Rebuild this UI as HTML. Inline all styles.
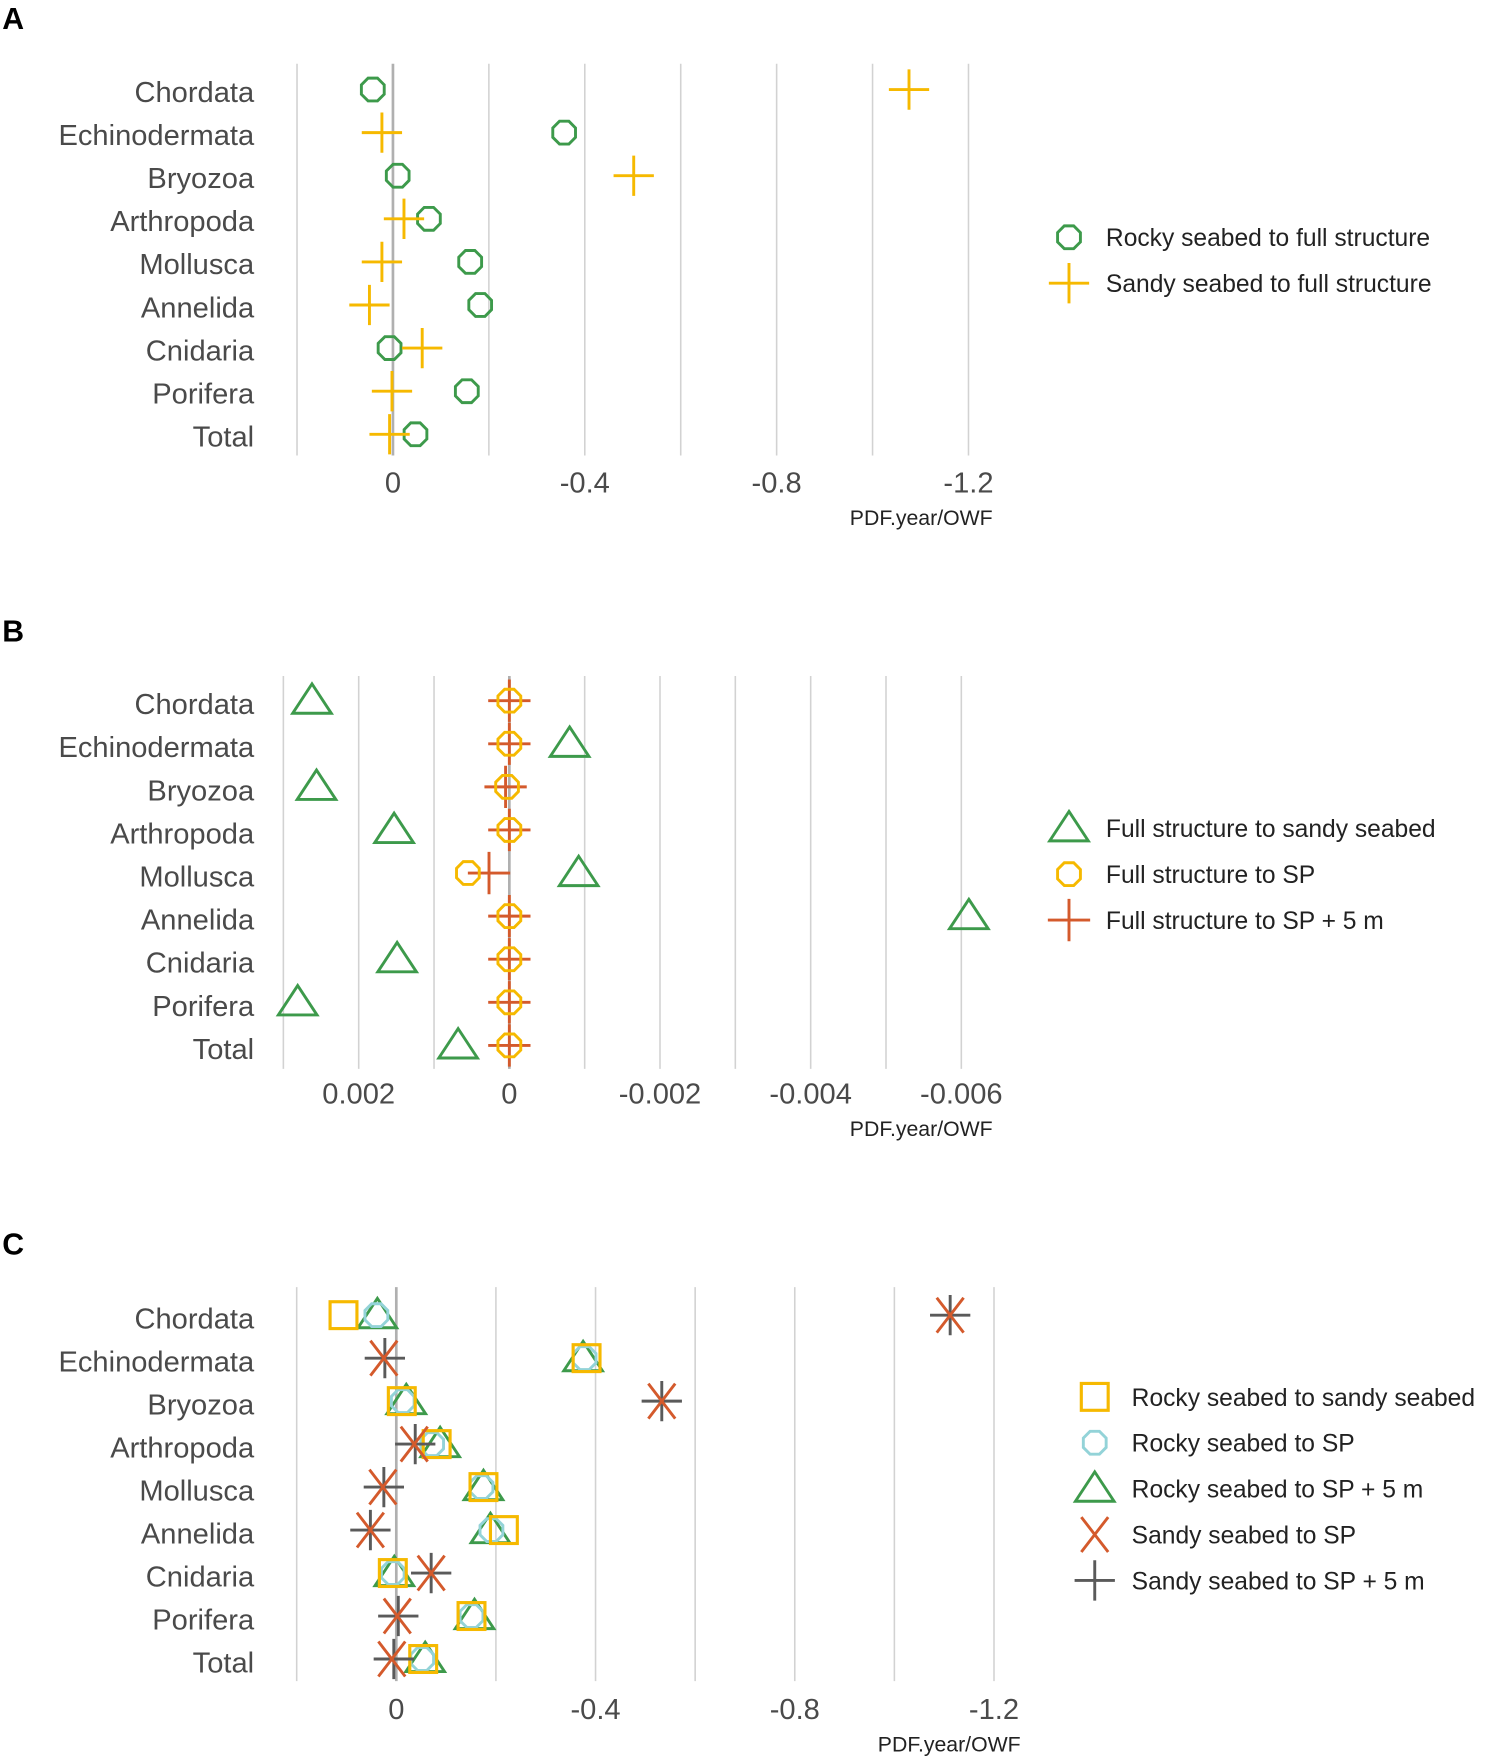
<!DOCTYPE html>
<html><head><meta charset="utf-8">
<style>
html,body{margin:0;padding:0;background:#fff;}
svg{display:block;}
text{font-family:"Liberation Sans",Arial,sans-serif;}
</style></head>
<body>
<svg id="chart" xmlns="http://www.w3.org/2000/svg" width="1500" height="1764" viewBox="0 0 1340 1576"></svg>
<script>
const categories = ["Chordata","Echinodermata","Bryozoa","Arthropoda","Mollusca","Annelida","Cnidaria","Porifera","Total"];

// Panel A
const aRockyFull = [0.042,-0.357,-0.010,-0.075,-0.161,-0.182,0.007,-0.154,-0.047];
const aSandyFull = [-1.076,0.023,-0.502,-0.023,0.023,0.049,-0.061,0.002,0.007];
const aTicks = [0,-0.4,-0.8,-1.2];
const aTickLabels = ["0","-0.4","-0.8","-1.2"];
const aGrid = [0.2,0,-0.2,-0.4,-0.6,-0.8,-1.0,-1.2];

// Panel B
const bFullSandy = [0.00262,-0.0008,0.00256,0.00153,-0.00092,-0.0061,0.00149,0.00281,0.00068];
const bFullSP = [0,0,0.00003,0,0.00055,0,0,0,0];
const bFullSP5 = [0,0,0.00005,0,0.00027,0,0,0,0];
const bTicks = [0.002,0,-0.002,-0.004,-0.006];
const bTickLabels = ["0.002","0","-0.002","-0.004","-0.006"];
const bGrid = [0.003,0.002,0.001,0,-0.001,-0.002,-0.003,-0.004,-0.005,-0.006];

// Panel C
const cRockySandy = [0.106,-0.382,-0.011,-0.081,-0.175,-0.216,0.007,-0.151,-0.054];
const cRockySP = [0.040,-0.378,-0.013,-0.072,-0.171,-0.191,0.007,-0.151,-0.052];
const cRockySP5 = [0.038,-0.375,-0.020,-0.088,-0.175,-0.189,0.004,-0.157,-0.058];
const cSandySP = [-1.112,0.025,-0.533,-0.036,0.027,0.052,-0.070,-0.002,0.009];
const cSandySP5 = [-1.112,0.023,-0.533,-0.038,0.025,0.052,-0.070,-0.004,0.005];
const cTicks = [0,-0.4,-0.8,-1.2];
const cTickLabels = ["0","-0.4","-0.8","-1.2"];
const cGrid = [0.2,0,-0.2,-0.4,-0.6,-0.8,-1.0,-1.2];

const NS="http://www.w3.org/2000/svg";
const svg=document.getElementById('chart');
const GREEN="#3d9a4b",YELLOW="#f6b900",RED="#d45a2c",CYAN="#93d3d8",GRAY="#5a5a5a";

function mk(tag,attrs,parent){const e=document.createElementNS(NS,tag);for(const k in attrs)e.setAttribute(k,attrs[k]);(parent||svg).appendChild(e);return e;}

function marker(g,type,x,y,color,s){
  s=s||1;let e;
  if(type==='oct'){
    const r=11*s;let p=[];for(let i=0;i<8;i++){const a=Math.PI/8+i*Math.PI/4;p.push((x+r*Math.cos(a)).toFixed(1)+','+(y+r*Math.sin(a)).toFixed(1));}
    e=mk('polygon',{points:p.join(' '),fill:'none',stroke:color,'stroke-width':2.6},g);
  }else if(type==='plus'){
    const h=18*s;e=mk('path',{d:`M${x-h} ${y}H${x+h}M${x} ${y-h}V${y+h}`,fill:'none',stroke:color,'stroke-width':2.6},g);
  }else if(type==='tri'){
    const h=15*s;e=mk('polygon',{points:`${x},${y-h} ${x+h*1.15},${y+h*0.75} ${x-h*1.15},${y+h*0.75}`,fill:'none',stroke:color,'stroke-width':2.6},g);
  }else if(type==='sq'){
    const h=12*s;e=mk('rect',{x:x-h,y:y-h,width:2*h,height:2*h,fill:'none',stroke:color,'stroke-width':2.8},g);
  }else if(type==='x'){
    const h=12*s;e=mk('path',{d:`M${x-h} ${y-h*1.3}L${x+h} ${y+h*1.3}M${x+h} ${y-h*1.3}L${x-h} ${y+h*1.3}`,fill:'none',stroke:color,'stroke-width':2.6},g);
  }
  return e;
}

function panel(cfg){
  const g=mk('g',{});
  
  
  const X=v=>cfg.zero-v*cfg.k;
  const lab=mk('text',{x:2,y:cfg.letterY,'font-size':27,'font-weight':'bold',fill:'#000'},g);
  lab.textContent=cfg.letter;
  
  
  cfg.grid.forEach(v=>{
    const l=mk('line',{x1:X(v),x2:X(v),y1:cfg.top,y2:cfg.bottom,stroke:v===0?'#b0b0b0':'#d2d2d2','stroke-width':v===0?2.4:1.4},g);
    
    
  });
  categories.forEach((c,i)=>{
    const t=mk('text',{x:227,y:cfg.labRow0+i*cfg.dy+9,'text-anchor':'end','font-size':26,fill:'#4a4a4a'},g);
    t.textContent=c;
    
    
  });
  cfg.ticks.forEach((v,i)=>{
    const t=mk('text',{x:X(v),y:cfg.tickY,'text-anchor':'middle','font-size':26,fill:'#4a4a4a'},g);
    t.textContent=cfg.tickLabels[i];
    
    
  });
  const at=mk('text',{x:cfg.titleX,y:cfg.tickY+29,'text-anchor':'middle','font-size':19,fill:'#222'},g);
  at.textContent='PDF.year/OWF';
  
  
  cfg.series.forEach(s=>{
    s.data.forEach((v,i)=>{
      const m=marker(g,s.type,X(v),cfg.row0+i*cfg.dy,s.color,s.scale);
      
      
    });
  });
  cfg.legend.forEach((s,i)=>{
    const y=cfg.legY+i*cfg.legDy;
    const m=marker(g,s.type,cfg.legX,y,s.color,s.scale);
    
    
    const t=mk('text',{x:cfg.legX+33,y:y+8,'font-size':22,fill:'#222'},g);
    t.textContent=s.label;
    
    
  });
}

const sA=[
 {key:'rocky-full',type:'oct',color:GREEN,data:aRockyFull,label:'Rocky seabed to full structure'},
 {key:'sandy-full',type:'plus',color:YELLOW,data:aSandyFull,label:'Sandy seabed to full structure'}];
panel({name:'panel-a',letter:'A',letterY:26,zero:351,k:428.5,grid:aGrid,ticks:aTicks,tickLabels:aTickLabels,top:57,bottom:407,row0:80,labRow0:82,dy:38.5,tickY:440,titleX:823,series:sA,legend:sA,legX:955,legY:212,legDy:41});

const sB=[
 {key:'full-sandy',type:'tri',color:GREEN,data:bFullSandy,label:'Full structure to sandy seabed'},
 {key:'full-sp',type:'oct',color:YELLOW,data:bFullSP,label:'Full structure to SP'},
 {key:'full-sp5',type:'plus',color:RED,data:bFullSP5,label:'Full structure to SP + 5 m',scale:1.05}];
panel({name:'panel-b',letter:'B',letterY:573,zero:455,k:67300,grid:bGrid,ticks:bTicks,tickLabels:bTickLabels,top:604,bottom:955,row0:626,labRow0:629,dy:38.5,tickY:986,titleX:823,series:[sB[0],sB[2],sB[1]],legend:sB,legX:955,legY:740,legDy:41});

const sC=[
 {key:'rocky-sandy',type:'sq',color:YELLOW,data:cRockySandy,label:'Rocky seabed to sandy seabed'},
 {key:'rocky-sp',type:'oct',color:CYAN,data:cRockySP,label:'Rocky seabed to SP'},
 {key:'rocky-sp5',type:'tri',color:GREEN,data:cRockySP5,label:'Rocky seabed to SP + 5 m'},
 {key:'sandy-sp',type:'x',color:RED,data:cSandySP,label:'Sandy seabed to SP'},
 {key:'sandy-sp5',type:'plus',color:GRAY,data:cSandySP5,label:'Sandy seabed to SP + 5 m'}];
panel({name:'panel-c',letter:'C',letterY:1121,zero:354,k:445,grid:cGrid,ticks:cTicks,tickLabels:cTickLabels,top:1150,bottom:1502,row0:1175,labRow0:1178,dy:38.4,tickY:1536,titleX:848,series:[sC[2],sC[1],sC[0],sC[4],sC[3]],legend:sC,legX:978,legY:1248,legDy:41});
</script>
</body></html>
